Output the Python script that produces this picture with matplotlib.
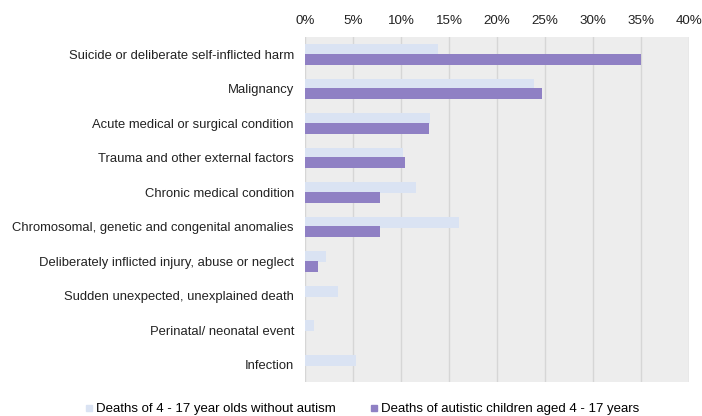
import matplotlib.pyplot as plt
from matplotlib.lines import Line2D
import numpy as np

plt.rcParams["font.family"] = ["Liberation Sans", "DejaVu Sans"]

categories = [
    "Suicide or deliberate self-inflicted harm",
    "Malignancy",
    "Acute medical or surgical condition",
    "Trauma and other external factors",
    "Chronic medical condition",
    "Chromosomal, genetic and congenital anomalies",
    "Deliberately inflicted injury, abuse or neglect",
    "Sudden unexpected, unexplained death",
    "Perinatal/ neonatal event",
    "Infection",
]
without_autism = [13.9, 23.9, 13.0, 10.2, 11.6, 16.0, 2.2, 3.4, 0.9, 5.3]
autistic = [35.0, 24.7, 12.9, 10.4, 7.8, 7.8, 1.4, 0.0, 0.0, 0.0]
series_names = [
    "Deaths of 4 - 17 year olds without autism",
    "Deaths of autistic children aged 4 - 17 years",
]
xticks = [0, 5, 10, 15, 20, 25, 30, 35, 40]

light = "#dae3f3"
dark = "#8f80c4"

fig = plt.figure(figsize=(7.02, 4.16), dpi=100)
ax = fig.add_axes([305 / 702, 1 - 382 / 416, 384 / 702, 345 / 416])
ax.set_facecolor("#ededed")

y = np.arange(len(categories))
h = 0.32
ax.barh(y - 0.125, without_autism, height=h, color=light, zorder=2)
ax.barh(y + 0.14, autistic, height=h, color=dark, zorder=3)

ax.set_xlim(0, 40)
ax.set_ylim(len(categories) - 0.5, -0.5)
ax.set_xticks(xticks)
ax.set_xticklabels([f"{t}%" for t in xticks], fontsize=9.6, color="#222222")
ax.xaxis.tick_top()
ax.tick_params(axis="x", length=0, pad=7.5)
ax.set_yticks(y)
ax.set_yticklabels(categories, fontsize=9.4, color="#222222")
ax.tick_params(axis="y", length=0, pad=8)
ax.grid(axis="x", color="#d6d6d6", linewidth=1, zorder=1)
for s in ax.spines.values():
    s.set_visible(False)

handles = [
    Line2D([], [], marker="s", linestyle="none", markersize=4.5, color=light),
    Line2D([], [], marker="s", linestyle="none", markersize=4.5, color=dark),
]
fig.legend(handles, series_names, loc="center", bbox_to_anchor=(0.516, 0.016),
           ncol=2, frameon=False, fontsize=9.5, handlelength=0.6, handletextpad=0.25,
           columnspacing=2.6, borderpad=0, borderaxespad=0)

fig.savefig("out.png", dpi=100)
